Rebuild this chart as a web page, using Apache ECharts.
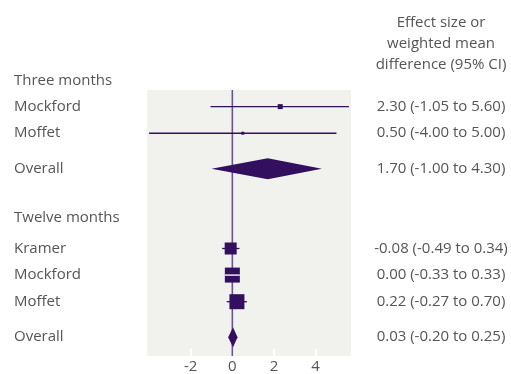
<!DOCTYPE html>
<html><head><meta charset="utf-8">
<script src="https://cdn.jsdelivr.net/npm/echarts@6/dist/echarts.min.js"></script>
<style>html,body{margin:0;padding:0;background:#fff}#c{width:511px;height:374px}</style>
</head><body><div id="c"></div>
<script>
// ---- data ----
const groups = ['Three months', 'Twelve months'];
const studies = ['Mockford', 'Moffet', 'Overall', 'Kramer', 'Mockford', 'Moffet', 'Overall'];
const isOverall = [false, false, true, false, false, false, true];
const estimates = [2.30, 0.50, 1.70, -0.08, 0.00, 0.22, 0.03];
const lower = [-1.05, -4.00, -1.00, -0.49, -0.33, -0.27, -0.20];
const upper = [5.60, 5.00, 4.30, 0.34, 0.33, 0.70, 0.25];
const xTicks = [-2, 0, 2, 4];
const columnHeader = ['Effect size or', 'weighted mean', 'difference (95% CI)'];

// ---- layout / style (not data) ----
const NSLOTS = 120;
const rowSlot = [7, 19, 35, 71, 83, 95, 111];
const groupSlot = [null, 57];          // first header sits above the panel
const markerSize = [5, 3, 21, 12, 15, 15, 20]; // square side / diamond height
const DARK = '#33105f';
const ZERO = '#6c519c';
const TEXT = '#555555';
const FONT = '"Open Sans", "Noto Sans", sans-serif';
const FS = 15;

const leftLabels = new Array(NSLOTS).fill('');
const rightLabels = new Array(NSLOTS).fill('');
studies.forEach((s, i) => {
  leftLabels[rowSlot[i]] = s;
  rightLabels[rowSlot[i]] = estimates[i].toFixed(2) + ' (' + lower[i].toFixed(2) + ' to ' + upper[i].toFixed(2) + ')';
});
groups.forEach((g, i) => { if (groupSlot[i] !== null) leftLabels[groupSlot[i]] = g; });
const cats = leftLabels.map((_, i) => String(i));

const rowData = studies.map((s, i) => [rowSlot[i], estimates[i], lower[i], upper[i], i]);

const chart = echarts.init(document.getElementById('c'), null, {renderer: 'canvas'});
chart.setOption({
  animation: false,
  grid: {left: 147, right: 160, top: 90, bottom: 17, show: true, backgroundColor: '#f1f1ed', borderWidth: 0},
  xAxis: {
    type: 'value', min: -4.1, max: 5.7,
    axisLine: {show: false}, splitLine: {show: false},
    axisTick: {show: true, inside: true, length: 7, customValues: xTicks, lineStyle: {color: '#ffffff', width: 2}},
    axisLabel: {show: true, customValues: xTicks, color: TEXT, fontSize: FS, fontFamily: FONT, margin: 3}
  },
  yAxis: [{
    type: 'category', data: cats, inverse: true, boundaryGap: true,
    axisLine: {show: false}, axisTick: {show: false}, splitLine: {show: false},
    axisLabel: {interval: 0, align: 'left', margin: 133, color: TEXT, fontSize: FS, fontFamily: FONT,
      formatter: (v) => leftLabels[+v]}
  }, {
    type: 'category', data: cats, inverse: true, position: 'right', boundaryGap: true,
    axisLine: {show: false}, axisTick: {show: false}, splitLine: {show: false},
    axisLabel: {interval: 0, align: 'center', margin: 90, color: TEXT, fontSize: FS, fontFamily: FONT,
      formatter: (v) => rightLabels[+v]}
  }],
  graphic: [
    {type: 'text', left: 14, top: 73, style: {text: groups[0], fill: TEXT, font: FS + 'px ' + FONT}},
    {type: 'text', style: {x: 441, y: 44, text: columnHeader.join('\n'), lineHeight: 21, textAlign: 'center', textVerticalAlign: 'middle', fill: TEXT, font: FS + 'px ' + FONT}}
  ],
  series: [{
    type: 'custom', z: 1, silent: true, data: [[0]],
    encode: {x: 0},
    renderItem: (params, api) => {
      const cs = params.coordSys;
      const x = api.coord([0, 0])[0];
      return {type: 'line', shape: {x1: x, y1: cs.y, x2: x, y2: cs.y + cs.height},
        style: {stroke: ZERO, lineWidth: 1.6}};
    }
  }, {
    type: 'custom', z: 3, silent: true, data: rowData,
    encode: {x: [1, 2, 3], y: 0},
    renderItem: (params, api) => {
      const slot = api.value(0), est = api.value(1), lo = api.value(2), hi = api.value(3), i = api.value(4);
      const c = api.coord([est, slot]);
      const pl = api.coord([lo, slot]);
      const ph = api.coord([hi, slot]);
      const s = markerSize[i];
      if (isOverall[i]) {
        return {type: 'polygon', shape: {points: [[pl[0], c[1]], [c[0], c[1] - s / 2], [ph[0], c[1]], [c[0], c[1] + s / 2]]},
          style: {fill: DARK}};
      }
      const children = [
        {type: 'line', shape: {x1: pl[0], y1: c[1], x2: ph[0], y2: c[1]}, style: {stroke: DARK, lineWidth: 1.3}},
        {type: 'rect', shape: {x: c[0] - s / 2, y: c[1] - s / 2, width: s, height: s}, style: {fill: DARK}}
      ];
      if (ph[0] - pl[0] < s) {
        // whisker hidden inside the box is drawn as a light stripe
        children.push({type: 'line', shape: {x1: c[0] - s / 2, y1: c[1], x2: c[0] + s / 2, y2: c[1]},
          style: {stroke: '#ece8f0', lineWidth: 1.5}});
      }
      return {type: 'group', children: children};
    }
  }]
});
</script>
</body></html>
